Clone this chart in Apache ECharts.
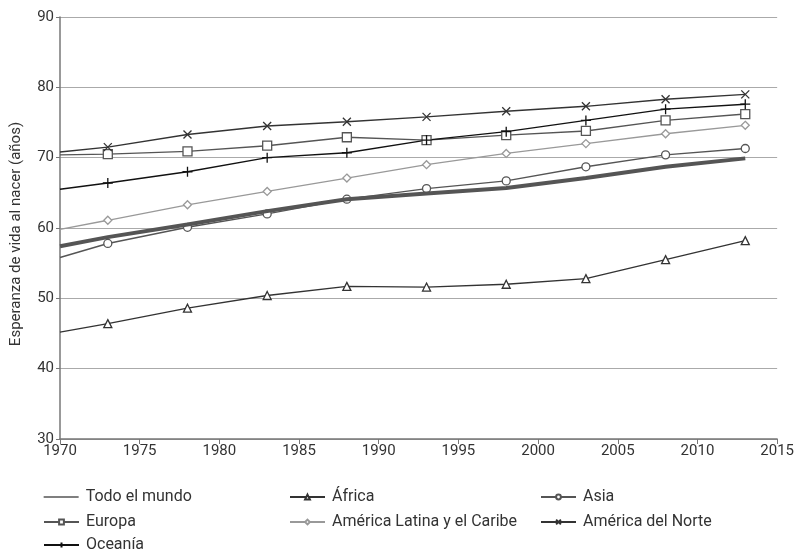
<!DOCTYPE html>
<html><head><meta charset="utf-8">
<script src="https://cdn.jsdelivr.net/npm/echarts@6/dist/echarts.min.js"></script>
<style>html,body{margin:0;padding:0;background:#fff}#c{width:797px;height:554px}</style>
</head><body><div id="c"></div>
<script>
const years = [1970, 1973, 1978, 1983, 1988, 1993, 1998, 2003, 2008, 2013];
const yTicks = [30, 40, 50, 60, 70, 80, 90];
const xTicks = [1970, 1975, 1980, 1985, 1990, 1995, 2000, 2005, 2010, 2015];
const mundo    = [57.4, 58.7, 60.5, 62.4, 64.1, 64.9, 65.7, 67.1, 68.7, 69.9];
const africa   = [45.2, 46.4, 48.6, 50.4, 51.7, 51.6, 52.0, 52.8, 55.5, 58.2];
const asia     = [55.8, 57.8, 60.1, 62.0, 64.1, 65.6, 66.7, 68.7, 70.4, 71.3];
const europa   = [70.4, 70.5, 70.9, 71.7, 72.9, 72.5, 73.2, 73.8, 75.3, 76.2];
const latam    = [59.8, 61.1, 63.3, 65.2, 67.1, 69.0, 70.6, 72.0, 73.4, 74.6];
const norte    = [70.8, 71.5, 73.3, 74.5, 75.1, 75.8, 76.6, 77.3, 78.3, 79.0];
const oceania  = [65.5, 66.4, 68.0, 70.0, 70.7, 72.5, 73.7, 75.3, 76.9, 77.6];

const FONT = 'Roboto, "Open Sans", sans-serif';
const X_PATH = 'path://M0,0L10,10M10,0L0,10';
const PLUS_PATH = 'path://M5,0L5,10M0,5L10,5';

function pts(vals) {
  return vals.map((v, i) => i === 0 ? { value: [years[i], v], symbol: 'none' } : [years[i], v]);
}
function mk(name, vals, color, width, symbol, size, fill) {
  return {
    name, type: 'line', data: pts(vals), symbol: symbol, symbolSize: size, showSymbol: symbol !== 'none',
    lineStyle: { color: color, width: width },
    itemStyle: { color: fill, borderColor: color, borderWidth: 1.3 },
    emphasis: { disabled: true }, animation: false, z: 2
  };
}
const series = [
  mk('Todo el mundo', mundo, '#555', 4, 'none', 0, '#555'),
  mk('África', africa, '#333', 1.4, 'triangle', 8, '#fff'),
  mk('Asia', asia, '#555', 1.4, 'circle', 8, '#fff'),
  mk('Europa', europa, '#555', 1.4, 'rect', 9, '#fff'),
  mk('América Latina y el Caribe', latam, '#999', 1.3, 'diamond', 8, '#fff'),
  mk('América del Norte', norte, '#333', 1.4, X_PATH, 8, 'none'),
  mk('Oceanía', oceania, '#111', 1.4, PLUS_PATH, 10, 'none')
];
series[0].z = 3;

function leg(name, left, cy, extra) {
  const d = Object.assign({ name: name }, extra || {});
  return {
    left: left, top: cy - 9, padding: 0, itemWidth: 35, itemHeight: 6, itemGap: 0,
    textStyle: { fontFamily: FONT, fontSize: 16, color: '#333', padding: [0, 0, 0, 2] },
    data: [d]
  };
}
const legends = [
  leg('Todo el mundo', 43, 498, { itemStyle: { opacity: 0 }, lineStyle: { width: 1.3, color: '#555' } }),
  leg('Europa', 43, 523),
  leg('Oceanía', 43, 546),
  leg('África', 289, 498),
  leg('América Latina y el Caribe', 289, 523),
  leg('Asia', 540, 498),
  leg('América del Norte', 540, 523)
];

const chart = echarts.init(document.getElementById('c'), null, { renderer: 'canvas' });
chart.setOption({
  animation: false,
  backgroundColor: '#fff',
  grid: { left: 60, right: 14, top: 17, bottom: 115, containLabel: false },
  legend: legends,
  xAxis: {
    type: 'value', min: xTicks[0], max: xTicks[xTicks.length - 1], interval: 5,
    axisLine: { show: true, lineStyle: { color: '#777', width: 1.5 } },
    axisTick: { show: true, length: 5, lineStyle: { color: '#777' } },
    axisLabel: { fontFamily: FONT, fontSize: 15, color: '#333', margin: 5, formatter: v => String(v) },
    splitLine: { show: false }
  },
  yAxis: {
    type: 'value', min: yTicks[0], max: yTicks[yTicks.length - 1], interval: 10,
    name: 'Esperanza de vida al nacer (años)', nameLocation: 'middle', nameGap: 36,
    nameTextStyle: { fontFamily: FONT, fontSize: 15, color: '#333', padding: [0, 12, 0, 0] },
    axisLine: { show: true, lineStyle: { color: '#777', width: 1.5 } },
    axisTick: { show: true, length: 4, lineStyle: { color: '#777' } },
    axisLabel: { fontFamily: FONT, fontSize: 15, color: '#333', margin: 6 },
    splitLine: { show: true, lineStyle: { color: '#aaa', width: 1.2 } }
  },
  series: series
});
</script></body></html>
